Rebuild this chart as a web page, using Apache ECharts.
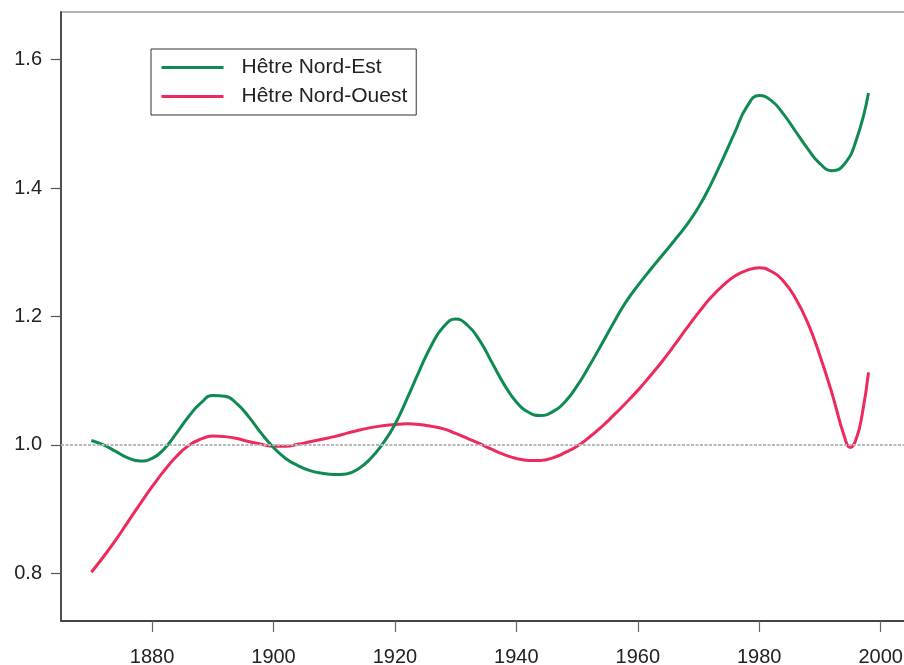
<!DOCTYPE html>
<html>
<head>
<meta charset="utf-8">
<script src="https://cdn.jsdelivr.net/npm/echarts@6/dist/echarts.min.js"></script>
<style>html,body{margin:0;padding:0;background:#fff}#c{width:904px;height:665px}</style>
</head>
<body>
<div id="c"></div>
<script>
const seriesNames = ['Hêtre Nord-Est', 'Hêtre Nord-Ouest'];
const xTicks = [1880, 1900, 1920, 1940, 1960, 1980, 2000];
const yTicks = [0.8, 1.0, 1.2, 1.4, 1.6];
const refValue = 1.0;

const yearsNE = [1870,1872,1874,1876,1878,1880,1882,1884,1886,1888,1890,1892,1894,1896,1898,1900,1902,1904,1906,1908,1910,1912,1914,1916,1918,1920,1922,1924,1926,1928,1930,1932,1934,1936,1938,1940,1942,1944,1946,1948,1950,1952,1954,1956,1958,1960,1962,1964,1966,1968,1970,1972,1974,1976,1978,1980,1982,1984,1986,1988,1990,1992,1994,1996,1998];
const valuesNE = [1.007,1.000,0.990,0.980,0.975,0.979,0.994,1.018,1.044,1.065,1.077,1.076,1.064,1.043,1.018,0.996,0.979,0.968,0.960,0.956,0.954,0.955,0.963,0.979,1.002,1.032,1.072,1.115,1.155,1.184,1.196,1.186,1.162,1.128,1.094,1.067,1.051,1.046,1.052,1.067,1.092,1.123,1.156,1.190,1.222,1.248,1.272,1.295,1.318,1.342,1.370,1.405,1.445,1.487,1.527,1.544,1.536,1.515,1.488,1.461,1.438,1.427,1.437,1.475,1.548];

const yearsNO = [1870,1872,1874,1876,1878,1880,1882,1884,1886,1888,1890,1892,1894,1896,1898,1900,1902,1904,1906,1908,1910,1912,1914,1916,1918,1920,1922,1924,1926,1928,1930,1932,1934,1936,1938,1940,1942,1944,1946,1948,1950,1952,1954,1956,1958,1960,1962,1964,1966,1968,1970,1972,1974,1976,1978,1980,1982,1984,1986,1988,1990,1992,1994,1995,1996,1997,1998];
const valuesNO = [0.802,0.826,0.852,0.880,0.908,0.935,0.960,0.982,0.999,1.009,1.014,1.013,1.010,1.005,1.001,0.998,0.998,1.001,1.005,1.009,1.013,1.018,1.023,1.027,1.030,1.032,1.033,1.032,1.029,1.025,1.018,1.010,1.002,0.993,0.985,0.979,0.976,0.976,0.980,0.988,0.998,1.012,1.028,1.046,1.065,1.085,1.107,1.130,1.155,1.181,1.206,1.229,1.248,1.263,1.272,1.276,1.270,1.255,1.228,1.190,1.139,1.080,1.014,0.996,1.010,1.050,1.113];

const pairs = (xs, ys) => xs.map((x, i) => [x, ys[i]]);
const font = '"Liberation Sans", Arial, Helvetica, sans-serif';

const chart = echarts.init(document.getElementById('c'), null, {renderer: 'canvas'});
chart.setOption({
  animation: false,
  backgroundColor: '#fff',
  grid: {
    left: 61, top: 12, width: 850, height: 609,
    show: true, borderColor: '#9a9a9a', borderWidth: 1.5,
    containLabel: false, outerBoundsMode: 'none'
  },
  legend: {
    data: seriesNames,
    orient: 'vertical',
    left: 151, top: 49,
    padding: [8, 9, 8, 9],
    itemWidth: 62, itemHeight: 18, itemGap: 8,
    borderColor: '#333', borderWidth: 1,
    backgroundColor: '#fff',
    itemStyle: {opacity: 0},
    lineStyle: {width: 3},
    textStyle: {fontFamily: font, fontSize: 21, color: '#222', padding: [0, 0, 0, 13]}
  },
  xAxis: {
    type: 'value', min: 1865, max: 2005,
    axisLine: {show: true, onZero: false, lineStyle: {color: '#444', width: 1.8}},
    axisTick: {show: true, length: 11, customValues: xTicks, lineStyle: {color: '#666', width: 1.2}},
    axisLabel: {customValues: xTicks, margin: 26, fontFamily: font, fontSize: 20, color: '#222',
      formatter: v => String(v)},
    splitLine: {show: false}
  },
  yAxis: {
    type: 'value', min: 0.726, max: 1.674,
    axisLine: {show: true, onZero: false, lineStyle: {color: '#444', width: 1.8}},
    axisTick: {show: true, length: 10, customValues: yTicks, lineStyle: {color: '#555', width: 1.2}},
    axisLabel: {customValues: yTicks, margin: 19, fontFamily: font, fontSize: 20, color: '#222',
      formatter: v => v.toFixed(1)},
    splitLine: {show: false}
  },
  series: [
    {
      name: 'ref', type: 'line', data: [], silent: true, z: 1,
      markLine: {
        silent: true, symbol: 'none', animation: false,
        label: {show: false},
        lineStyle: {color: '#b8b8b8', width: 2, type: [3, 1.5]},
        data: [{yAxis: refValue}]
      }
    },
    {
      name: seriesNames[0], type: 'line', data: pairs(yearsNE, valuesNE),
      smooth: 0.5, symbol: 'none', z: 3,
      lineStyle: {color: '#0f8a50', width: 3},
      itemStyle: {color: '#0f8a50'}
    },
    {
      name: seriesNames[1], type: 'line', data: pairs(yearsNO, valuesNO),
      smooth: 0.5, symbol: 'none', z: 2,
      lineStyle: {color: '#ee2a5c', width: 3},
      itemStyle: {color: '#ee2a5c'}
    }
  ]
});
</script>
</body>
</html>
